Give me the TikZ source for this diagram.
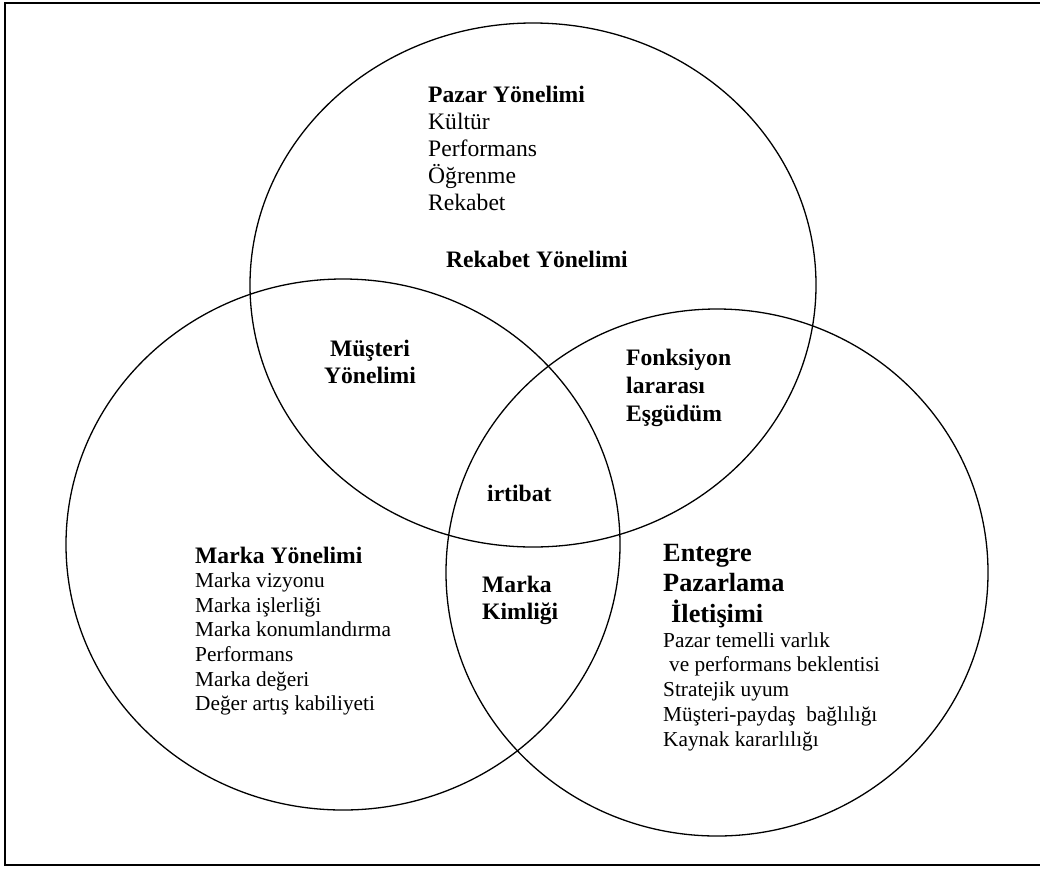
\documentclass[tikz,border=0pt]{standalone}
\usepackage{fontspec}
\setmainfont{Liberation Serif}
\tikzset{
  ring/.style={line width=1.3pt},
  frame/.style={line width=2pt},
  hd/.style={font=\fontsize{23.6}{27}\selectfont\bfseries, inner sep=0pt, anchor=base west},
  hdbig/.style={font=\fontsize{26.3}{30}\selectfont\bfseries, inner sep=0pt, anchor=base west},
  hdc/.style={font=\fontsize{23.6}{27}\selectfont\bfseries, inner sep=0pt, anchor=base},
  itA/.style={font=\fontsize{23.6}{27}\selectfont, inner sep=0pt, anchor=base west},
  itB/.style={font=\fontsize{21.3}{24}\selectfont, inner sep=0pt, anchor=base west}
}
\begin{document}
\begin{tikzpicture}[x=1pt,y=-1pt]
\useasboundingbox (0,0) rectangle (1040,868);
% frame (right side lies outside the picture)
\draw[frame] (1040,3) -- (5,3) -- (5,865) -- (1040,865);
% three ellipses
\draw[ring] (533,285) ellipse [x radius=283pt, y radius=262pt];
\draw[ring] (343,544.5) ellipse [x radius=277pt, y radius=265.5pt];
\draw[ring] (717,572.5) ellipse [x radius=271pt, y radius=263.5pt];
% top set
\node[hd] (pazar) at (428,102) {Pazar Yönelimi};
\foreach \t [count=\i] in {Kültür, Performans, Öğrenme, Rekabet}
  \node[itA] (pz\i) at (428,{102+27*\i}) {\t};
\node[hd] (rekabet) at (446,267) {Rekabet Yönelimi};
% overlaps
\node[hdc] (must1) at (370,356) {Müşteri};
\node[hdc] (must2) at (370,383) {Yönelimi};
\node[hd] (fonk1) at (626,365) {Fonksiyon};
\node[hd] (fonk2) at (626,393) {lararası};
\node[hd] (fonk3) at (626,421) {Eşgüdüm};
\node[hd] (irtibat) at (487,501) {irtibat};
\node[hd] (kim1) at (482,592) {Marka};
\node[hd] (kim2) at (482,619) {Kimliği};
% left set
\node[hd] (marka) at (195,563) {Marka Yönelimi};
\foreach \t [count=\i] in {Marka vizyonu, Marka işlerliği, Marka konumlandırma, Performans, Marka değeri, Değer artış kabiliyeti}
  \node[itB] (mk\i) at (195,{563+24.6*\i}) {\t};
% right set
\node[hdbig] (ent1) at (663,561) {Entegre};
\node[hdbig] (ent2) at (663,591) {Pazarlama};
\node[hdbig] (ent3) at (671,622) {İletişimi};
\node[itB] (ip1) at (663,647) {Pazar temelli varlık};
\node[itB] (ip2) at (669,671) {ve performans beklentisi};
\node[itB] (ip3) at (663,696) {Stratejik uyum};
\node[itB] (ip4) at (663,721) {Müşteri-paydaş\ \ bağlılığı};
\node[itB] (ip5) at (663,746) {Kaynak kararlılığı};
\end{tikzpicture}
\end{document}
